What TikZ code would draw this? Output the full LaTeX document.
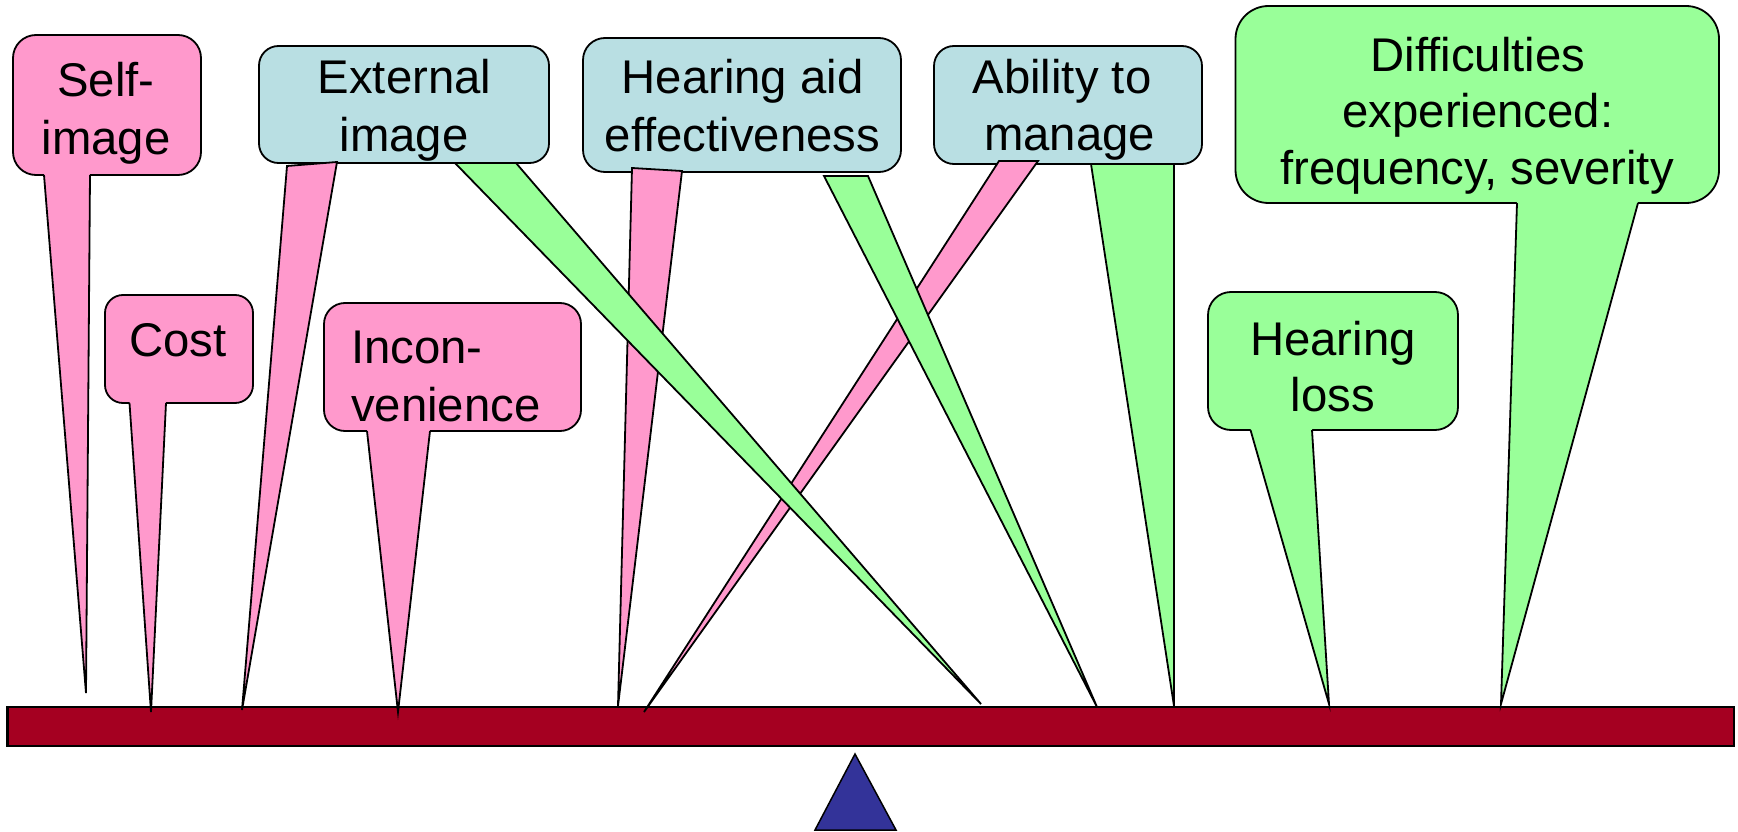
\documentclass[tikz,border=0pt]{standalone}
\usepackage{fontspec}
\setmainfont{Liberation Sans}
\usetikzlibrary{calc}

\definecolor{calloutpink}{HTML}{FF99CC}
\definecolor{calloutblue}{HTML}{B9DFE3}
\definecolor{calloutgreen}{HTML}{99FF99}
\definecolor{beamred}{HTML}{A50021}
\definecolor{pivotblue}{HTML}{333399}

\tikzset{
  outline/.style={draw=black, line width=1.8pt, line join=miter},
  callbox/.style={outline, rectangle, inner sep=0pt, outer sep=0pt},
  txt/.style={inner sep=0pt, anchor=base, font=\fontsize{47.3}{57}\selectfont},
  txtleft/.style={txt, anchor=base west},
}

% tail that grows out of its own box: no line across its top
\newcommand\mergedtail[5]{%
  \fill[#2] ($(#1.south west)+(#3,-1.5)$) -- ($(#1.south west)+(#4,-1.5)$) -- (#5) -- cycle;
  \draw[outline] ($(#1.south west)+(#3,0)$) -- (#5) -- ($(#1.south west)+(#4,0)$);
}
% free-standing wedge hanging below a box, fully outlined
\newcommand\loosetail[5]{%
  \draw[outline, fill=#2] ($(#1.south west)+(#3)$) -- ($(#1.south west)+(#4)$) -- (#5) -- cycle;
}

\begin{document}
\begin{tikzpicture}[x=1pt, y=-1pt]
\useasboundingbox (0,0) rectangle (1738,832);

% the beam and its pivot
\node[callbox, line width=2.5pt, fill=beamred, minimum width=1726.5pt, minimum height=39pt] (beam) at (870.75,726.5) {};
\draw[outline, line width=1.5pt, fill=pivotblue] (855,754) -- (815,830) -- (896,830) -- cycle;

% points where the wedges meet the beam
\coordinate (selftip)   at (86,693);
\coordinate (costtip)   at (151,712);
\coordinate (extptip)   at (242,710);
\coordinate (incontip)  at (398,712);
\coordinate (haptip)    at (618,706);
\coordinate (abptip)    at (644,712);
\coordinate (extgtip)   at (981,704);
\coordinate (hagtip)    at (1097,707);
\coordinate (abgtip)    at (1174,706);
\coordinate (hlosstip)  at (1329,704);
\coordinate (diffictip) at (1501,704);

% pink callouts
\node[callbox, fill=calloutpink, rounded corners=23pt, minimum width=188pt, minimum height=140pt] (selfimg) at (107,105) {};
\mergedtail{selfimg}{calloutpink}{31}{77}{selftip}
\node[txt] (selfimg-a) at (106,97) {Self-};
\node[txt] (selfimg-b) at (106,154) {image};

\node[callbox, fill=calloutpink, rounded corners=18pt, minimum width=148pt, minimum height=108pt] (cost) at (179,349) {};
\mergedtail{cost}{calloutpink}{24.5}{61}{costtip}
\node[txt] (cost-a) at (178,356) {Cost};

\node[callbox, fill=calloutpink, rounded corners=21pt, minimum width=257pt, minimum height=128pt] (incon) at (452.5,367) {};
\mergedtail{incon}{calloutpink}{43}{106}{incontip}
\node[txtleft] (incon-a) at (351,363) {Incon-};
\node[txtleft] (incon-b) at (351,421) {venience};

% green callouts
\node[callbox, fill=calloutgreen, rounded corners=33pt, minimum width=483.5pt, minimum height=197pt] (diffic) at (1477.25,104.5) {};
\mergedtail{diffic}{calloutgreen}{281.5}{402.5}{diffictip}
\node[txt] (diffic-a) at (1478,72) {Difficulties};
\node[txt] (diffic-b) at (1478,128) {experienced:};
\node[txt] (diffic-c) at (1477,185) {frequency, severity};

\node[callbox, fill=calloutgreen, rounded corners=23pt, minimum width=250pt, minimum height=138pt] (hloss) at (1333,361) {};
\mergedtail{hloss}{calloutgreen}{42.5}{104}{hlosstip}
\node[txt] (hloss-a) at (1333,355) {Hearing};
\node[txt] (hloss-b) at (1333,411) {loss};

% blue boxes
\node[callbox, fill=calloutblue, rounded corners=19.5pt, minimum width=290pt, minimum height=117pt] (extimg) at (404,104.5) {};
\node[txt] (extimg-a) at (404.5,94) {External};
\node[txt] (extimg-b) at (404,152) {image};

\node[callbox, fill=calloutblue, rounded corners=22pt, minimum width=318pt, minimum height=134pt] (haeff) at (742,105) {};
\node[txt] (haeff-a) at (742.5,94) {Hearing aid};
\node[txt] (haeff-b) at (742.5,152) {effectiveness};

\node[callbox, fill=calloutblue, rounded corners=20pt, minimum width=268pt, minimum height=118pt] (ability) at (1068,105) {};
\node[txt] (ability-a) at (1062,94) {Ability to};
\node[txt] (ability-b) at (1069.5,151) {manage};

% pink wedges from the blue boxes
\loosetail{extimg}{calloutpink}{28,3}{78,-1}{extptip}
\loosetail{haeff}{calloutpink}{49,-4}{99,-1}{haptip}
\loosetail{ability}{calloutpink}{65,-3}{104,-3}{abptip}

% green wedges from the blue boxes, lying over the pink ones
\loosetail{extimg}{calloutgreen}{196,0}{257,0}{extgtip}
\loosetail{haeff}{calloutgreen}{241,4}{285,4}{hagtip}
\loosetail{ability}{calloutgreen}{157,0}{240,0}{abgtip}
\end{tikzpicture}
\end{document}
